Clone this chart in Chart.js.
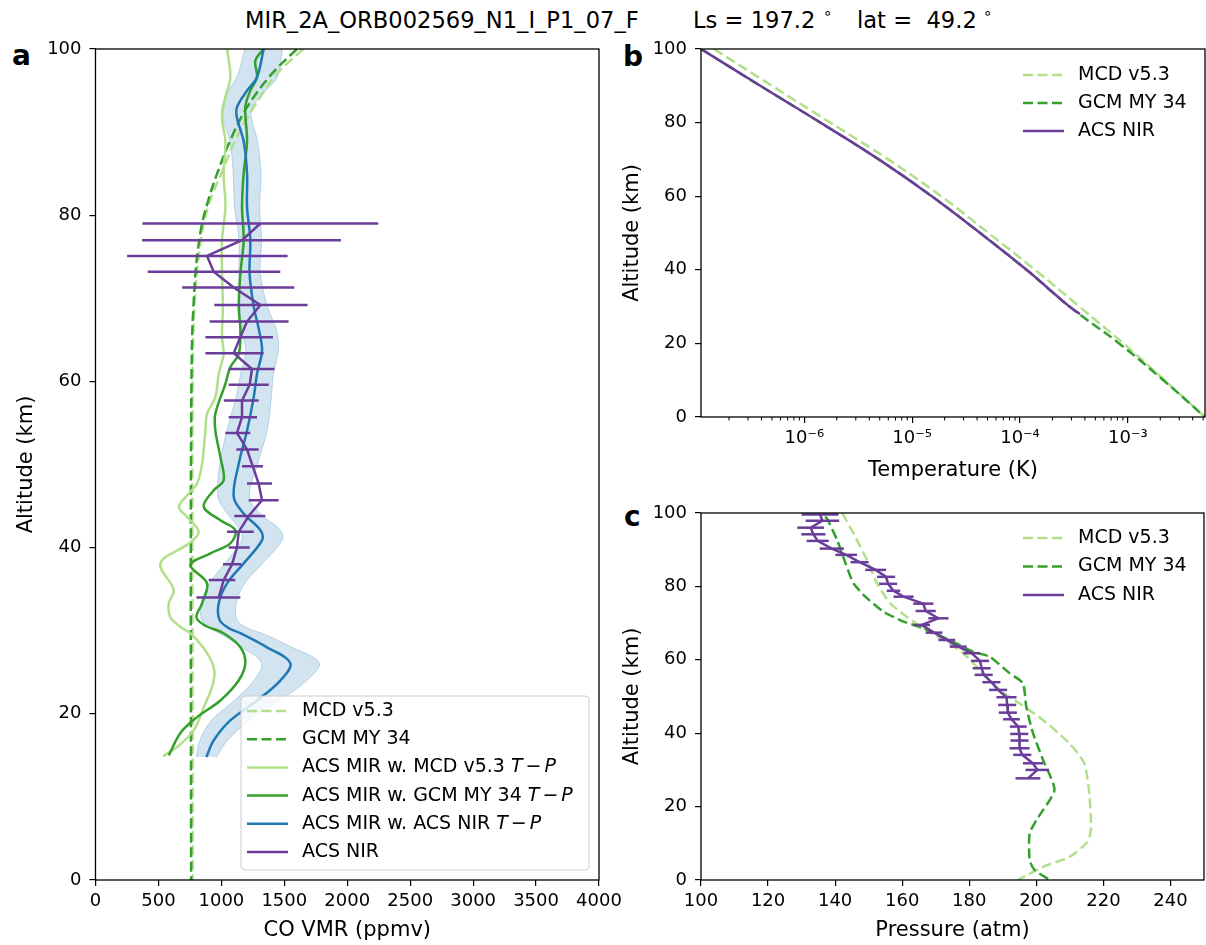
<!DOCTYPE html>
<html>
<head>
<meta charset="utf-8">
<script src="https://cdn.jsdelivr.net/npm/chart.js@4"></script>
<style>
  html, body { margin: 0; padding: 0; background: #fff; }
  body { width: 1206px; height: 945px; position: relative; overflow: hidden; font-family: 'DejaVu Sans', sans-serif; }
  canvas { position: absolute; }
  .ttl { position: absolute; top: 9px; font-size: 22.6px; line-height: 1; white-space: pre; }
  .deg { position: absolute; top: 6px; font-size: 15px; line-height: 1; }
  .pl { position: absolute; font-size: 28px; font-weight: bold; line-height: 1; }
</style>
</head>
<body>
<div class="ttl" style="left:245px">MIR_2A_ORB002569_N1_I_P1_07_F</div>
<div class="ttl" style="left:693px">Ls = 197.2</div>
<div class="deg" style="left:823px">∘</div>
<div class="ttl" style="left:857px">lat =  49.2</div>
<div class="deg" style="left:983px">∘</div>
<div class="pl" style="left:12px;top:42px">a</div>
<div class="pl" style="left:623px;top:43px">b</div>
<div class="pl" style="left:624px;top:503px">c</div>

<canvas id="chartA" width="650" height="945" style="left:0;top:0"></canvas>
<canvas id="chartB" width="596" height="490" style="left:610px;top:0"></canvas>
<canvas id="chartC" width="596" height="465" style="left:610px;top:480px"></canvas>

<script>
// ---- panel a: CO VMR (ppmv) vs altitude (km)
const modelAlt = [100, 97, 93, 89, 85, 82, 79, 76, 73, 69, 65, 55, 40, 20, 0];
const mcdVmr = [1650, 1440, 1257, 1110, 1000, 915, 860, 828, 805, 786, 776, 770, 770, 772, 772];
const gcmVmr = [1600, 1400, 1204, 1070, 966, 900, 847, 815, 794, 778, 767, 760, 757, 758, 760];

const mirMcdAlt = [100, 96.6, 94.2, 91.7, 88.9, 85, 81, 77, 73, 69, 65.3, 63.3, 60.9, 58.1, 56.1, 54.1, 50.1, 47.7, 46.5, 44.9, 43.7, 41.9, 40.5, 38.1, 34.9, 33.3, 31.6, 30.3, 29.7, 27.3, 25.2, 23.2, 20.8, 18, 16, 14.9];
const mirMcdVmr = [1045, 1071, 1032, 1005, 1032, 1018, 1032, 1005, 1005, 1012, 1005, 1018, 979, 952, 886, 873, 847, 807, 741, 662, 728, 820, 741, 516, 622, 582, 595, 690, 754, 886, 944, 926, 860, 780, 648, 537];

const mirGcmAlt = [100, 98.6, 96.6, 95, 93, 88.9, 85, 81, 77, 73, 69, 66.1, 63.3, 61.7, 59.7, 56.1, 54.1, 50.9, 48.1, 46.9, 44.9, 43.3, 42.1, 40.5, 39.3, 37.9, 35.7, 33.3, 31.6, 30.6, 29.7, 28, 26.1, 24, 21.6, 19.6, 17.7, 15];
const mirGcmVmr = [1336, 1270, 1283, 1230, 1190, 1204, 1177, 1164, 1177, 1151, 1138, 1151, 1138, 1071, 1032, 952, 952, 992, 1018, 939, 860, 992, 1111, 1071, 913, 754, 886, 847, 802, 873, 1018, 1151, 1190, 1137, 992, 807, 675, 582];

const mirNirAlt = [100, 96.6, 95, 93, 91.7, 88.9, 85, 81, 77, 73, 69, 66.1, 63.7, 60.9, 58.1, 54.1, 50.1, 46.1, 44.1, 42.1, 40.9, 38.1, 35.7, 33.3, 31.3, 30.3, 29.7, 28, 26.1, 24, 21.6, 19.2, 16.8, 14.8];
const mirNirVmr = [1336, 1283, 1204, 1124, 1124, 1177, 1204, 1204, 1230, 1224, 1257, 1300, 1323, 1283, 1257, 1204, 1138, 1098, 1177, 1310, 1323, 1177, 1045, 979, 985, 1060, 1151, 1362, 1548, 1468, 1283, 1071, 939, 881];
const mirNirErr = [150, 160, 150, 120, 115, 110, 110, 100, 90, 85, 110, 140, 130, 130, 140, 160, 150, 125, 130, 160, 160, 150, 140, 140, 140, 150, 170, 200, 230, 210, 180, 150, 110, 80];

const nirAltA = [79.0, 77.0, 75.1, 73.2, 71.3, 69.2, 67.2, 65.3, 63.4, 61.5, 59.6, 57.7, 55.7, 53.8, 51.8, 49.8, 47.7, 45.7, 43.8, 41.9, 40.0, 38.0, 36.1, 34.0];
const nirVmr = [1310, 1164, 886, 939, 1098, 1310, 1204, 1150, 1098, 1243, 1225, 1164, 1164, 1124, 1204, 1249, 1296, 1323, 1217, 1138, 1124, 1085, 1019, 979];
const nirVmrLo = [373, 370, 251, 415, 688, 944, 907, 873, 873, 1058, 1058, 1019, 1058, 1032, 1119, 1164, 1204, 1217, 1103, 1045, 1058, 1013, 899, 802];
const nirVmrHi = [2246, 1950, 1526, 1468, 1579, 1685, 1534, 1410, 1336, 1423, 1376, 1296, 1283, 1230, 1296, 1331, 1402, 1455, 1349, 1257, 1225, 1156, 1111, 1151];

// ---- panel b: "Temperature (K)" (log) vs altitude
const tAlt = [100, 90, 80, 70, 60, 50, 40, 30, 20, 10, 0];
const tMcd = [1.45e-7, 5.0e-7, 1.74e-6, 6.0e-6, 1.86e-5, 5.1e-5, 1.38e-4, 3.55e-4, 9.1e-4, 2.19e-3, 5.2e-3];
const tGcm = [1.1e-7, 3.9e-7, 1.41e-6, 4.9e-6, 1.52e-5, 4.27e-5, 1.15e-4, 2.88e-4, 8.3e-4, 2.14e-3, 5.2e-3];
const tNirAlt = [100, 90, 80, 70, 60, 50, 40, 30, 28];
const tNir = [1.1e-7, 3.9e-7, 1.41e-6, 4.9e-6, 1.52e-5, 4.27e-5, 1.15e-4, 2.88e-4, 3.6e-4];
const tempTicks = [1e-6, 1e-5, 1e-4, 1e-3];
const tempTickLabels = ['10⁻⁶', '10⁻⁵', '10⁻⁴', '10⁻³'];

// ---- panel c: "Pressure (atm)" vs altitude
const pMcdAlt = [100, 94.4, 87.2, 80.8, 75.4, 71.7, 68.6, 65.4, 61.8, 57.2, 51.8, 48.1, 43.6, 37.2, 31.8, 23.6, 14.1, 10.4, 6.3, 3.6, 0];
const pMcd = [142.1, 145.5, 149.5, 152.5, 156.4, 161.4, 166.3, 172.3, 178.2, 183.2, 189.1, 195.0, 202.0, 209.9, 214.3, 215.8, 216.3, 215.3, 209.9, 202.0, 194.5];
const pGcmAlt = [99, 98.5, 92.6, 86.3, 80.8, 77.2, 73.1, 70.4, 68.6, 64.9, 62.2, 60.8, 56.3, 53.6, 47.2, 40.0, 32.7, 24.5, 16.3, 12.7, 5.4, 2.7, 0];
const pGcm = [137, 137.6, 140.6, 143.1, 145.5, 149.0, 154.4, 160.4, 166.3, 175.2, 181.2, 186.1, 192.1, 196.0, 197.0, 199.0, 202.0, 205.4, 200.0, 198.0, 198.0, 199.5, 204.0];
const pNirAlt = [99.6, 97.9, 96.0, 94.2, 92.4, 90.3, 88.6, 86.6, 84.5, 82.6, 80.7, 78.8, 77.2, 75.3, 73.3, 71.3, 69.5, 67.4, 65.4, 63.6, 61.8, 59.7, 57.7, 55.9, 53.9, 51.8, 49.8, 47.7, 45.6, 43.8, 41.8, 39.8, 38.0, 35.9, 34.1, 31.8, 30.0, 27.7];
const pNir = [135.5, 136.2, 132.7, 133.5, 134.8, 139.0, 143.3, 147.3, 152.1, 155.2, 155.8, 157.4, 160.4, 166.3, 167.0, 170.8, 165.8, 169.5, 173.3, 176.7, 180.7, 183.2, 183.7, 184.3, 186.6, 188.6, 191.1, 191.3, 191.5, 192.6, 194.6, 194.9, 195.0, 195.0, 195.8, 199.0, 200.3, 197.5];
const pNirErr = [5.5, 5.0, 4.0, 3.6, 3.3, 3.6, 3.2, 2.7, 3.1, 2.7, 2.7, 2.0, 3.0, 3.0, 3.0, 3.0, 2.5, 2.5, 2.5, 2.5, 2.5, 2.7, 2.7, 2.7, 2.7, 2.7, 3.0, 2.7, 2.7, 2.5, 2.5, 2.7, 2.7, 3.0, 2.7, 3.0, 3.5, 3.7];

const LIGHT = '#b2df8a', DARK = '#33a02c', BLUE = '#1f78b4', PURPLE = '#6a3d9a';
const DASH = [10, 4.5];

Chart.defaults.font.family = "'DejaVu Sans', sans-serif";
Chart.defaults.font.size = 18;
Chart.defaults.color = '#000';
Chart.defaults.animation = false;
Chart.defaults.events = [];
Chart.defaults.plugins.legend.display = false;
Chart.defaults.plugins.tooltip.enabled = false;
Chart.defaults.elements.point.radius = 0;

const pts = (xs, ys) => xs.map((v, i) => ({ x: v, y: ys[i] }));

function line(label, xs, ys, color, dashed, order, tension) {
  return {
    label, data: pts(xs, ys), borderColor: color, backgroundColor: color,
    borderWidth: 2.5, borderDash: dashed ? DASH : [], fill: false, order,
    tension: tension || 0
  };
}

// black box round the plot, like matplotlib spines
const frame = {
  id: 'frame',
  afterDraw(chart) {
    const { ctx, chartArea: a } = chart;
    ctx.save();
    ctx.strokeStyle = '#000';
    ctx.lineWidth = 1.3;
    ctx.strokeRect(a.left, a.top, a.right - a.left, a.bottom - a.top);
    ctx.restore();
  }
};

// horizontal error bars
const errorBars = {
  id: 'errorBars',
  afterDatasetsDraw(chart, args, o) {
    if (!o.alt) return;
    const { ctx, scales: { x, y }, chartArea: a } = chart;
    ctx.save();
    ctx.beginPath();
    ctx.rect(a.left, a.top, a.right - a.left, a.bottom - a.top);
    ctx.clip();
    ctx.strokeStyle = PURPLE;
    ctx.lineWidth = 2.5;
    o.alt.forEach((h, i) => {
      const py = y.getPixelForValue(h);
      ctx.beginPath();
      ctx.moveTo(x.getPixelForValue(o.lo[i]), py);
      ctx.lineTo(x.getPixelForValue(o.hi[i]), py);
      ctx.stroke();
    });
    ctx.restore();
  }
};

function drawLabel(ctx, text, x, y) {
  ctx.textBaseline = 'middle';
  ctx.textAlign = 'left';
  ctx.fillStyle = '#000';
  const m = text.match(/^(.*) T−P$/);
  ctx.font = "19px 'DejaVu Sans'";
  if (!m) { ctx.fillText(text, x, y); return; }
  const base = m[1] + ' ';
  ctx.fillText(base, x, y);
  x += ctx.measureText(base).width;
  ctx.font = "italic 19px 'DejaVu Sans'";
  ctx.fillText('T', x, y);
  x += ctx.measureText('T').width + 3;
  ctx.font = "19px 'DejaVu Sans'";
  ctx.fillText('−', x, y);
  x += ctx.measureText('−').width + 3;
  ctx.font = "italic 19px 'DejaVu Sans'";
  ctx.fillText('P', x, y);
}

const legendBox = {
  id: 'legendBox',
  afterDraw(chart, args, o) {
    if (!o.items) return;
    const ctx = chart.ctx;
    ctx.save();
    if (o.frame) {
      const f = o.frame;
      ctx.beginPath();
      if (ctx.roundRect) ctx.roundRect(f.x, f.y, f.w, f.h, 4); else ctx.rect(f.x, f.y, f.w, f.h);
      ctx.fillStyle = 'rgba(255,255,255,0.8)';
      ctx.fill();
      ctx.strokeStyle = '#cccccc';
      ctx.lineWidth = 1;
      ctx.stroke();
    }
    o.items.forEach((di, k) => {
      const ds = chart.data.datasets[di];
      const y = o.y + k * o.row;
      ctx.beginPath();
      ctx.setLineDash(ds.borderDash || []);
      ctx.strokeStyle = ds.borderColor;
      ctx.lineWidth = ds.borderWidth;
      ctx.moveTo(o.x, y);
      ctx.lineTo(o.x + o.len, y);
      ctx.stroke();
      ctx.setLineDash([]);
      drawLabel(ctx, ds.label, o.x + o.len + o.gap, y);
    });
    ctx.restore();
  }
};

const minorTicks = {
  id: 'minorTicks',
  afterDraw(chart) {
    const { ctx, scales: { x }, chartArea: a } = chart;
    ctx.save();
    ctx.strokeStyle = '#000';
    ctx.lineWidth = 1;
    for (let e = -8; e <= -2; e++) {
      for (let m = 2; m <= 9; m++) {
        const v = m * Math.pow(10, e);
        if (v < x.min || v > x.max) continue;
        const px = x.getPixelForValue(v);
        ctx.beginPath();
        ctx.moveTo(px, a.bottom);
        ctx.lineTo(px, a.bottom + 3.5);
        ctx.stroke();
      }
    }
    ctx.restore();
  }
};

const gridOpts = { drawOnChartArea: false, tickLength: 6, color: '#000', lineWidth: 1.2 };

function yAxis(width, titlePad) {
  return {
    type: 'linear', min: 0, max: 100,
    border: { display: false },
    grid: gridOpts,
    ticks: { stepSize: 20, padding: 8, callback: v => String(v) },
    title: { display: true, text: 'Altitude (km)', font: { size: 21 }, padding: { top: titlePad, bottom: 0 } },
    afterFit: s => { s.width = width; }
  };
}

// ---- panel a
const bandLo = mirNirVmr.map((v, i) => v - mirNirErr[i]);
const bandHi = mirNirVmr.map((v, i) => v + mirNirErr[i]);

new Chart(document.getElementById('chartA'), {
  type: 'line',
  data: {
    datasets: [
      { label: 'band lo', data: pts(bandLo, mirNirAlt), borderColor: 'rgba(31,120,180,0.25)', borderWidth: 1,
        fill: false, order: 9, tension: 0.35 },
      { label: 'band hi', data: pts(bandHi, mirNirAlt), borderColor: 'rgba(31,120,180,0.25)', borderWidth: 1,
        backgroundColor: 'rgba(31,120,180,0.2)', fill: 0, order: 8, tension: 0.35 },
      line('MCD v5.3', mcdVmr, modelAlt, LIGHT, true, 7, 0.35),
      line('GCM MY 34', gcmVmr, modelAlt, DARK, true, 6, 0.35),
      line('ACS MIR w. MCD v5.3 T−P', mirMcdVmr, mirMcdAlt, LIGHT, false, 5, 0.35),
      line('ACS MIR w. GCM MY 34 T−P', mirGcmVmr, mirGcmAlt, DARK, false, 4, 0.35),
      line('ACS MIR w. ACS NIR T−P', mirNirVmr, mirNirAlt, BLUE, false, 3, 0.35),
      line('ACS NIR', nirVmr, nirAltA, PURPLE, false, 2)
    ]
  },
  options: {
    responsive: false,
    devicePixelRatio: 1,
    indexAxis: 'y',
    layout: { padding: { left: 0, right: 51, top: 49, bottom: 0 } },
    scales: {
      x: {
        type: 'linear', min: 0, max: 4000,
        border: { display: false },
        grid: gridOpts,
        ticks: { stepSize: 500, padding: 5, maxRotation: 0, autoSkip: false, callback: v => String(v) },
        title: { display: true, text: 'CO VMR (ppmv)', font: { size: 21 }, padding: { top: 0, bottom: 2 } },
        afterFit: s => { s.height = 65; }
      },
      y: yAxis(95.5, 14)
    },
    plugins: {
      errorBars: { alt: nirAltA, lo: nirVmrLo, hi: nirVmrHi },
      legendBox: { items: [2, 3, 4, 5, 6, 7], x: 247, y: 711, row: 28.2, len: 41, gap: 14,
        frame: { x: 241, y: 696, w: 348, h: 174 } }
    }
  },
  plugins: [errorBars, frame, legendBox]
});

// ---- panel b
new Chart(document.getElementById('chartB'), {
  type: 'line',
  data: {
    datasets: [
      line('MCD v5.3', tMcd, tAlt, LIGHT, true, 3, 0.4),
      line('GCM MY 34', tGcm, tAlt, DARK, true, 2, 0.4),
      line('ACS NIR', tNir, tNirAlt, PURPLE, false, 1, 0.4)
    ]
  },
  options: {
    responsive: false,
    devicePixelRatio: 1,
    layout: { padding: { left: 0, right: 1, top: 49, bottom: 0 } },
    scales: {
      x: {
        type: 'logarithmic', min: 1.1e-7, max: 5.2e-3,
        border: { display: false },
        grid: gridOpts,
        afterBuildTicks: s => { s.ticks = tempTicks.map(v => ({ value: v })); },
        ticks: { padding: 5, maxRotation: 0, autoSkip: false,
          callback: v => tempTickLabels[tempTicks.indexOf(v)] || '' },
        title: { display: true, text: 'Temperature (K)', font: { size: 21 }, padding: { top: 0, bottom: 7 } },
        afterFit: s => { s.height = 73; }
      },
      y: yAxis(91, 9.5)
    },
    plugins: {
      legendBox: { items: [0, 1, 2], x: 413, y: 75, row: 28, len: 41, gap: 14 }
    }
  },
  plugins: [minorTicks, frame, legendBox]
});

// ---- panel c
new Chart(document.getElementById('chartC'), {
  type: 'line',
  data: {
    datasets: [
      line('MCD v5.3', pMcd, pMcdAlt, LIGHT, true, 3, 0.2),
      line('GCM MY 34', pGcm, pGcmAlt, DARK, true, 2, 0.2),
      line('ACS NIR', pNir, pNirAlt, PURPLE, false, 1)
    ]
  },
  options: {
    responsive: false,
    devicePixelRatio: 1,
    indexAxis: 'y',
    layout: { padding: { left: 0, right: 2, top: 33, bottom: 0 } },
    scales: {
      x: {
        type: 'linear', min: 100, max: 250,
        border: { display: false },
        grid: gridOpts,
        ticks: { stepSize: 20, padding: 5, maxRotation: 0, autoSkip: false, includeBounds: false },
        title: { display: true, text: 'Pressure (atm)', font: { size: 21 }, padding: { top: 0, bottom: 2 } },
        afterFit: s => { s.height = 65; }
      },
      y: yAxis(91, 9.5)
    },
    plugins: {
      errorBars: { alt: pNirAlt, lo: pNir.map((v, i) => v - pNirErr[i]), hi: pNir.map((v, i) => v + pNirErr[i]) },
      legendBox: { items: [0, 1, 2], x: 413, y: 58, row: 28.5, len: 41, gap: 14 }
    }
  },
  plugins: [errorBars, frame, legendBox]
});
</script>
</body>
</html>
